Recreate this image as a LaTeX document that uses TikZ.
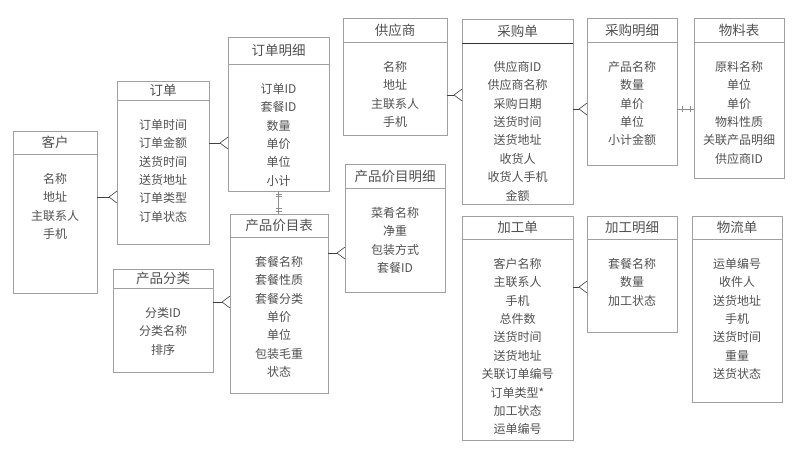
\documentclass[tikz,border=0pt]{standalone}
\usepackage{fontspec}
\setmainfont{Noto Sans CJK SC}
\usepackage{tikz}
\usetikzlibrary{calc, positioning, decorations.markings}
\definecolor{boxgray}{HTML}{A0A0A0}
\definecolor{txtgray}{HTML}{505050}
\tikzstyle{head}=[draw=boxgray, line width=0.7pt, anchor=north west, inner sep=0pt, outer sep=0pt, text=txtgray, font=\fontsize{13.5}{16}\selectfont]
\tikzstyle{frame}=[draw=boxgray, line width=0.7pt, anchor=north, inner sep=0pt, outer sep=0pt]
\tikzstyle{fields}=[anchor=north, inner sep=0pt, align=center, text=txtgray, font=\fontsize{12}{18.4}\selectfont]
\tikzstyle{link}=[draw=black!75, line width=0.6pt]
\tikzstyle{one2one}=[link, draw=black!45, postaction={decorate, decoration={markings,
  mark=at position 3pt with {\draw[link, draw=black!45] (0,-3pt) -- (0,3pt);},
  mark=at position 5.5pt with {\draw[link, draw=black!45] (0,-3pt) -- (0,3pt);},
  mark=at position -3pt with {\draw[link, draw=black!45] (0,-3pt) -- (0,3pt);},
  mark=at position -5.5pt with {\draw[link, draw=black!45] (0,-3pt) -- (0,3pt);}}}]
\tikzstyle{one2one short}=[link, draw=black!45, postaction={decorate, decoration={markings,
  mark=at position 5pt with {\draw[link, draw=black!45] (0,-3pt) -- (0,3pt);},
  mark=at position -4pt with {\draw[link, draw=black!45] (0,-3pt) -- (0,3pt);}}}]
\tikzset{crow/.pic={\draw[link] (-8,0) -- (0,-6) (-8,0) -- (0,6);}}

\begin{document}
\begin{tikzpicture}[x=1pt, y=-1pt]
\useasboundingbox (0,0) rectangle (800,450);
% the customer side
\node[head, minimum width=84, minimum height=23] (kehu-t) at (13,131) {客户};
\node[frame, minimum width=84, minimum height=139] (kehu) at (kehu-t.south) {};
\node[fields] (kehu-f) at ([yshift=-19pt]kehu.north) {名称\\地址\\主联系人\\手机};
\node[head, minimum width=92, minimum height=19] (dingdan-t) at (117,81) {订单};
\node[frame, minimum width=92, minimum height=144] (dingdan) at (dingdan-t.south) {};
\node[fields] (dingdan-f) at ([yshift=-19pt]dingdan.north) {订单时间\\订单金额\\送货时间\\送货地址\\订单类型\\订单状态};
\node[head, minimum width=101, minimum height=27] (dingmx-t) at (228,37) {订单明细};
\node[frame, minimum width=101, minimum height=127] (dingmx) at (dingmx-t.south) {};
\node[fields] (dingmx-f) at ([yshift=-19pt]dingmx.north) {订单ID\\套餐ID\\数量\\单价\\单位\\小计};
% the products
\node[head, minimum width=98, minimum height=23] (jiamu-t) at (230,214) {产品价目表};
\node[frame, minimum width=98, minimum height=156] (jiamu) at (jiamu-t.south) {};
\node[fields] (jiamu-f) at ([yshift=-19pt]jiamu.north) {套餐名称\\套餐性质\\套餐分类\\单价\\单位\\包装毛重\\状态};
\node[head, minimum width=100, minimum height=19] (fenlei-t) at (113,269) {产品分类};
\node[frame, minimum width=100, minimum height=84] (fenlei) at (fenlei-t.south) {};
\node[fields] (fenlei-f) at ([yshift=-19pt]fenlei.north) {分类ID\\分类名称\\排序};
\node[head, minimum width=100, minimum height=24] (jiamx-t) at (345,164) {产品价目明细};
\node[frame, minimum width=100, minimum height=104] (jiamx) at (jiamx-t.south) {};
\node[fields] (jiamx-f) at ([yshift=-19pt]jiamx.north) {菜肴名称\\净重\\包装方式\\套餐ID};
% the purchase side
\node[head, minimum width=104, minimum height=24] (gongying-t) at (343,18) {供应商};
\node[frame, minimum width=104, minimum height=93] (gongying) at (gongying-t.south) {};
\node[fields] (gongying-f) at ([yshift=-19pt]gongying.north) {名称\\地址\\主联系人\\手机};
\node[head, minimum width=111, minimum height=24] (caigou-t) at (462,19) {采购单};
\node[frame, minimum width=111, minimum height=161] (caigou) at (caigou-t.south) {};
\draw[black!80, line width=0.7pt] (caigou-t.south west) -- (caigou-t.south east);
\node[fields] (caigou-f) at ([yshift=-18pt]caigou.north) {供应商ID\\供应商名称\\采购日期\\送货时间\\送货地址\\收货人\\收货人手机\\金额};
\node[head, minimum width=90, minimum height=24] (caimx-t) at (587,18) {采购明细};
\node[frame, minimum width=90, minimum height=123] (caimx) at (caimx-t.south) {};
\node[fields] (caimx-f) at ([yshift=-19pt]caimx.north) {产品名称\\数量\\单价\\单位\\小计金额};
\node[head, minimum width=90, minimum height=24] (wuliao-t) at (694,18) {物料表};
\node[frame, minimum width=90, minimum height=136] (wuliao) at (wuliao-t.south) {};
\node[fields] (wuliao-f) at ([yshift=-19pt]wuliao.north) {原料名称\\单位\\单价\\物料性质\\关联产品明细\\供应商ID};
% the processing side
\node[head, minimum width=111, minimum height=23] (jiagong-t) at (462,216) {加工单};
\node[frame, minimum width=111, minimum height=201] (jiagong) at (jiagong-t.south) {};
\node[fields] (jiagong-f) at ([yshift=-19pt]jiagong.north) {客户名称\\主联系人\\手机\\总件数\\送货时间\\送货地址\\关联订单编号\\订单类型*\\加工状态\\运单编号};
\node[head, minimum width=90, minimum height=23] (jiagmx-t) at (587,216) {加工明细};
\node[frame, minimum width=90, minimum height=93] (jiagmx) at (jiagmx-t.south) {};
\node[fields] (jiagmx-f) at ([yshift=-19pt]jiagmx.north) {套餐名称\\数量\\加工状态};
\node[head, minimum width=90, minimum height=23] (wuliu-t) at (692,216) {物流单};
\node[frame, minimum width=90, minimum height=163] (wuliu) at (wuliu-t.south) {};
\node[fields] (wuliu-f) at ([yshift=-19pt]wuliu.north) {运单编号\\收件人\\送货地址\\手机\\送货时间\\重量\\送货状态};
% the one-to-many links
\draw[link, shorten >=8pt] (kehu.east |- 0,197) -- (dingdan.west |- 0,197);
\pic at (dingdan.west |- 0,197) {crow};
\draw[link, shorten >=8pt] (dingdan.east |- 0,143) -- (dingmx.west |- 0,143);
\pic at (dingmx.west |- 0,143) {crow};
\draw[link, shorten >=8pt] (fenlei.east |- 0,302) -- (jiamu.west |- 0,302);
\pic at (jiamu.west |- 0,302) {crow};
\draw[link, shorten >=8pt] (jiamu.east |- 0,253) -- (jiamx.west |- 0,253);
\pic at (jiamx.west |- 0,253) {crow};
\draw[link, shorten >=8pt] (gongying.east |- 0,95) -- (caigou.west |- 0,95);
\pic at (caigou.west |- 0,95) {crow};
\draw[link, shorten >=8pt] (caigou.east |- 0,109) -- (caimx.west |- 0,109);
\pic at (caimx.west |- 0,109) {crow};
\draw[link, shorten >=8pt] (jiagong.east |- 0,287) -- (jiagmx.west |- 0,287);
\pic at (jiagmx.west |- 0,287) {crow};
% the one-to-one links
\draw[one2one] (dingmx.south) -- (dingmx.south |- jiamu-t.north);
\draw[one2one short] (caimx.east |- 0,109) -- (wuliao.west |- 0,109);
\end{tikzpicture}
\end{document}
